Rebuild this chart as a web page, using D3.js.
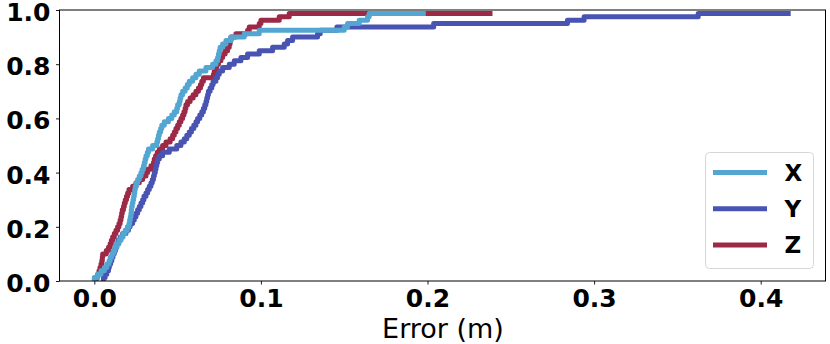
<!DOCTYPE html>
<html><head><meta charset="utf-8">
<script src="https://cdn.jsdelivr.net/npm/d3@7"></script>
<style>body{margin:0;background:#fff}svg{display:block}</style>
</head><body>
<svg id="c" width="830" height="344"></svg>
<script>
// Sorted error values (m) per axis; CDF level i/n
const errX = [0.0,0.002,0.004,0.006,0.0075,0.0088,0.0095,0.0105,0.0115,0.0125,
 0.0135,0.0148,0.016,0.0172,0.0185,0.0198,0.0208,0.0212,0.0216,0.022,
 0.0222,0.0224,0.0228,0.0232,0.0236,0.024,0.0243,0.0246,0.0252,0.026,
 0.027,0.028,0.0287,0.0295,0.030,0.0305,0.031,0.0318,0.0325,0.035,
 0.0375,0.038,0.0385,0.039,0.0398,0.0405,0.042,0.0445,0.0465,0.048,
 0.0495,0.050,0.051,0.0515,0.052,0.053,0.0545,0.0558,0.057,0.059,
 0.061,0.063,0.067,0.071,0.073,0.074,0.0745,0.075,0.0755,0.077,
 0.079,0.082,0.090,0.099,0.150,0.152,0.159,0.164,0.165,0.199];
const errY = [0.0055,0.0065,0.0075,0.0085,0.009,0.0098,0.0105,0.0112,0.012,0.0128,
 0.0135,0.0142,0.0155,0.017,0.019,0.0205,0.0215,0.023,0.024,0.025,
 0.026,0.027,0.028,0.029,0.0298,0.031,0.032,0.033,0.034,0.0348,
 0.0355,0.036,0.0366,0.037,0.0375,0.038,0.039,0.041,0.045,0.0495,
 0.052,0.054,0.0555,0.057,0.0583,0.0597,0.061,0.062,0.0633,0.0645,
 0.0655,0.0663,0.067,0.0675,0.068,0.0685,0.0695,0.0705,0.0713,0.073,
 0.074,0.075,0.077,0.081,0.084,0.088,0.092,0.099,0.107,0.114,
 0.116,0.119,0.134,0.1356,0.1456,0.2037,0.284,0.294,0.3625,0.418];
const errZ = [0.001,0.002,0.0028,0.0034,0.004,0.0045,0.0048,0.005,0.0072,0.0085,
 0.0095,0.0102,0.011,0.012,0.013,0.014,0.0148,0.0155,0.016,0.0164,
 0.0168,0.0175,0.018,0.0186,0.0193,0.020,0.0208,0.023,0.025,0.027,
 0.029,0.031,0.032,0.034,0.0355,0.036,0.0368,0.0378,0.039,0.041,
 0.043,0.0455,0.047,0.048,0.049,0.050,0.051,0.052,0.053,0.0538,
 0.0545,0.055,0.056,0.0575,0.0593,0.061,0.0625,0.0637,0.0645,0.0655,
 0.0715,0.072,0.0728,0.0735,0.0745,0.076,0.077,0.0785,0.080,0.081,
 0.0815,0.082,0.085,0.092,0.093,0.099,0.100,0.111,0.117,0.239];
const seriesNames = ["X","Y","Z"];
const seriesColors = ["#52a6d1","#4953b2","#9c2a47"];
const xTicks = [0.0,0.1,0.2,0.3,0.4];
const yTicks = [0.0,0.2,0.4,0.6,0.8,1.0];
const xLabel = "Error (m)";

const svg = d3.select("#c");
const L=59.5, R=825.5, T=10, B=281;
const x = d3.scaleLinear().domain([-0.0209,0.4389]).range([L,R]);
const y = d3.scaleLinear().domain([0,1]).range([B,T]);

const data = [errX,errY,errZ];
const line = d3.line().x(d=>x(d[0])).y(d=>y(d[1])).curve(d3.curveStepBefore);

const g = svg.append("g");
const drawOrder=[2,1,0];
drawOrder.forEach(k=>{
  const arr=data[k], n=arr.length;
  const pts=arr.map((v,i)=>[v,i/n]);
  g.append("path").attr("d",line(pts)).attr("fill","none")
   .attr("stroke",seriesColors[k]).attr("stroke-width",5)
   .attr("stroke-linejoin","round").attr("stroke-linecap","butt");
});

// axes
const font="DejaVu Sans, sans-serif";
const xa = g.append("g").attr("transform",`translate(0,${B})`)
  .call(d3.axisBottom(x).tickValues(xTicks).tickFormat(d3.format(".1f")).tickSize(3.5).tickPadding(5));
const ya = g.append("g").attr("transform",`translate(${L},0)`)
  .call(d3.axisLeft(y).tickValues(yTicks).tickFormat(d3.format(".1f")).tickSize(3.5).tickPadding(5.5));
[xa,ya].forEach(a=>{
  a.select(".domain").remove();
  a.selectAll("line").attr("stroke","#000").attr("stroke-width",0.9);
  a.selectAll("text").attr("font-family",font).attr("font-weight","bold")
   .attr("font-size",25).attr("fill","#000");
});
ya.selectAll("text").attr("dy","0.42em");
xa.selectAll("text").attr("dy","0.71em");

g.append("rect").attr("x",L).attr("y",T).attr("width",R-L).attr("height",B-T)
 .attr("fill","none").attr("stroke","#000").attr("stroke-width",1);

g.append("text").attr("x",443).attr("y",337.5).attr("text-anchor","middle")
 .attr("font-family",font).attr("font-size",27).attr("fill","#000").text(xLabel);

// legend
const lg = g.append("g");
lg.append("rect").attr("x",705.5).attr("y",152.5).attr("width",108).attr("height",116)
  .attr("rx",4).attr("fill","#fff").attr("fill-opacity",0.8).attr("stroke","#d6d6d6");
seriesNames.forEach((nm,k)=>{
  const yy=172.5+k*36.2;
  lg.append("line").attr("x1",713).attr("x2",767).attr("y1",yy).attr("y2",yy)
    .attr("stroke",seriesColors[k]).attr("stroke-width",5);
  lg.append("text").attr("x",784.5).attr("y",yy).attr("dy","0.36em")
    .attr("font-family",font).attr("font-weight","bold").attr("font-size",23).text(nm);
});
</script>
</body></html>
